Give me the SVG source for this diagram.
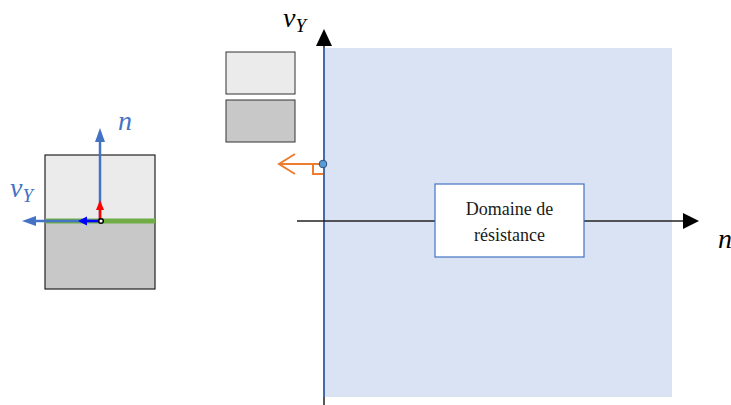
<svg xmlns="http://www.w3.org/2000/svg" width="731" height="405" viewBox="0 0 731 405">
<style>
.bx{stroke-width:1.2}
</style>
<rect width="731" height="405" fill="#fff"/>
<g id="domain">
<rect x="324" y="48" width="348" height="349" fill="#dae3f3"/>
</g>
<g id="connectors">
<line x1="324" y1="405" x2="324" y2="45" stroke="#000" stroke-width="1.3"/>
<path d="M316,46 L324,29 L332,46 z" fill="#000"/>
<line x1="324" y1="48" x2="324" y2="397" stroke="#4472c4" stroke-width="1.5"/>
<line x1="297" y1="221" x2="684" y2="221" stroke="#222" stroke-width="1.3"/>
<path d="M683,213 L699,221 L683,229 z" fill="#000"/>
<g stroke="#ed7d31" stroke-width="2" fill="none">
<line x1="323" y1="164" x2="280" y2="164"/>
<polyline points="295,154 279,164 295,174"/>
<polyline points="313,164 313,174 323,174"/>
</g>
<circle cx="323" cy="164" r="3.8" fill="#5b9bd5" stroke="#2f4f7f" stroke-width="1"/>
</g>
<g id="box">
<rect class="bx" x="435" y="184" width="149" height="73" fill="#fff" stroke="#4472c4"/>
<text font-family="Liberation Serif, serif" font-size="18" fill="#1a1a1a" x="509.5" y="215" text-anchor="middle">Domaine de</text>
<text font-family="Liberation Serif, serif" font-size="18" fill="#1a1a1a" x="509.5" y="241" text-anchor="middle">résistance</text>
</g>
<g id="legend">
<rect x="226" y="52" width="69" height="42" fill="#ebebeb" stroke="#333" stroke-width="1"/>
<rect x="226" y="100" width="69" height="42" fill="#c8c8c8" stroke="#333" stroke-width="1"/>
</g>
<g id="labels" font-family="Liberation Serif, serif" font-style="italic" font-size="28">
<text x="283" y="27" fill="#000">v<tspan font-size="19" dy="5">Y</tspan></text>
<text x="718" y="248" fill="#000">n</text>
</g>
<g id="block">
<rect x="45" y="155" width="110" height="66" fill="#ebebeb"/>
<rect x="45" y="221" width="110" height="68" fill="#c8c8c8"/>
<rect x="45" y="155" width="110" height="134" fill="none" stroke="#222" stroke-width="1.2"/>
<line x1="45" y1="221" x2="155" y2="221" stroke="#70ad47" stroke-width="5"/>
<g fill="#4472c4" stroke="#4472c4">
<line x1="100" y1="221" x2="100" y2="140" stroke-width="2.5"/>
<path d="M95,142 L100,128 L105,142 z" stroke="none"/>
<line x1="100" y1="221" x2="34" y2="221" stroke-width="2.5"/>
<path d="M36,216 L22,221 L36,226 z" stroke="none"/>
</g>
<line x1="100" y1="221" x2="100" y2="209" stroke="#ff0000" stroke-width="2.5"/>
<path d="M96,210 L100,200 L104,210 z" fill="#ff0000"/>
<line x1="100" y1="221" x2="86" y2="221" stroke="#0000ff" stroke-width="2.5"/>
<path d="M87,216.5 L78,221 L87,225.5 z" fill="#0000ff"/>
<circle cx="101" cy="221" r="2.3" fill="#fff" stroke="#000" stroke-width="1.5"/>
<g font-family="Liberation Serif, serif" font-style="italic" font-size="28" fill="#4472c4">
<text x="118" y="130">n</text>
<text x="10" y="197">v<tspan font-size="19" dy="5">Y</tspan></text>
</g>
</g>
</svg>
